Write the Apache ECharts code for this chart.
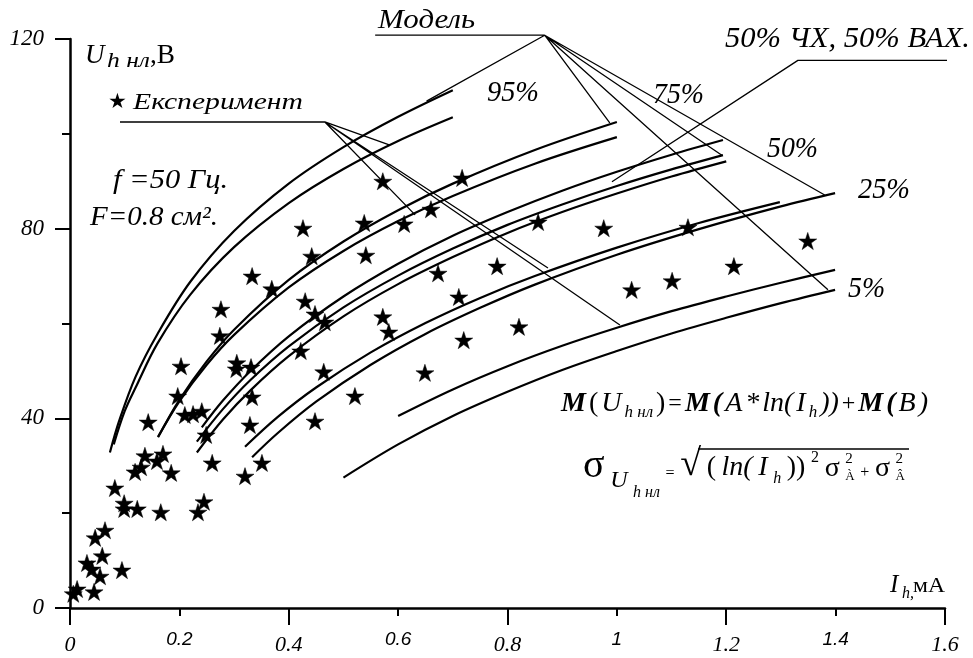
<!DOCTYPE html>
<html><head><meta charset="utf-8">
<script src="https://cdn.jsdelivr.net/npm/echarts/dist/echarts.min.js"></script>
<style>html,body{margin:0;padding:0;background:#fff}#c{width:973px;height:658px}</style>
</head><body><div id="c"></div>
<script>
// ---------- data ----------
const xTickLabels = ['0','0.2','0.4','0.6','0.8','1','1.2','1.4','1.6'];
const xTickRaised = ['0.2','0.6','1','1.4'];
const yTickLabels = ['0','40','80','120'];

const experiment = [
 [0.013,4.0],[0.006,3.0],[0.044,3.4],[0.055,6.7],[0.040,8.2],[0.031,9.5],[0.059,11.0],[0.046,14.8],[0.064,16.4],
 [0.095,8.0],[0.082,25.3],[0.099,22.1],[0.099,20.9],[0.123,20.9],[0.166,20.2],[0.119,28.7],[0.130,29.7],[0.137,32.1],
 [0.159,31.0],[0.170,32.5],[0.185,28.5],[0.234,20.2],[0.245,22.4],[0.260,30.6],[0.320,27.8],[0.351,30.6],
 [0.426,80.1],[0.442,74.2],[0.333,70.0],[0.369,67.3],[0.276,63.0],[0.274,57.4],[0.430,64.7],[0.448,62.0],[0.466,60.3],
 [0.203,51.0],[0.197,44.7],[0.305,51.7],[0.304,50.4],[0.331,50.8],[0.210,40.7],[0.225,40.9],[0.241,41.5],[0.143,39.2],
 [0.333,44.5],[0.329,38.6],[0.249,36.5],[0.422,54.2],[0.464,49.8],[0.448,39.4],
 [0.572,90.0],[0.717,90.7],[0.538,81.2],[0.611,81.0],[0.660,84.1],[0.541,74.4],[0.673,70.6],[0.781,72.1],[0.711,65.6],
 [0.856,81.4],[0.572,61.4],[0.583,58.2],[0.649,49.6],[0.720,56.5],[0.821,59.3],[0.521,44.7],
 [0.976,80.1],[1.130,80.3],[1.349,77.4],[1.214,72.1],[1.101,69.0],[1.027,67.1]
];

const model95a = [[0.073,32.8],[0.09,39.5],[0.12,48.8],[0.16,57.8],[0.22,68.8],[0.3,79.5],[0.4,89.5],[0.5,97.2],[0.6,103.6],[0.7,109.2]];
const model95b = [[0.08,34.5],[0.1,41.5],[0.12,46.5],[0.16,55.8],[0.22,66.1],[0.3,76.1],[0.4,85.4],[0.5,92.6],[0.6,98.5],[0.7,103.5]];
const model75a = [[0.161,36.0],[0.2,43.9],[0.25,52.0],[0.3,58.7],[0.4,69.2],[0.5,77.3],[0.6,83.9],[0.7,89.5],[0.85,96.6],[1.0,102.5]];
const model75b = [[0.161,36.1],[0.2,43.6],[0.25,51.3],[0.3,57.6],[0.4,67.6],[0.5,75.3],[0.6,81.6],[0.7,86.9],[0.85,93.7],[1.0,99.3]];
const model50a = [[0.241,38.1],[0.28,43.8],[0.33,50.0],[0.4,57.3],[0.5,65.7],[0.6,72.6],[0.7,78.5],[0.8,83.5],[0.9,88.0],[1.0,92.0],[1.1,95.6],[1.194,98.7]];
const model50b = [[0.232,35.1],[0.28,42.0],[0.33,48.1],[0.4,55.2],[0.5,63.4],[0.6,70.1],[0.7,75.8],[0.8,80.8],[0.9,85.1],[1.0,89.0],[1.1,92.5],[1.194,95.5]];
const model50c = [[0.232,32.8],[0.28,39.8],[0.33,45.9],[0.4,53.1],[0.5,61.5],[0.6,68.3],[0.7,74.0],[0.8,79.1],[0.9,83.5],[1.0,87.4],[1.1,91.0],[1.2,94.2]];
const model25a = [[0.32,34.0],[0.38,40.3],[0.45,46.5],[0.55,53.9],[0.65,60.1],[0.75,65.4],[0.85,70.0],[1.0,76.0],[1.15,81.2],[1.298,85.6]];
const model25b = [[0.333,31.8],[0.38,36.9],[0.45,43.5],[0.55,51.3],[0.65,57.8],[0.75,63.3],[0.85,68.2],[1.0,74.5],[1.15,79.9],[1.3,84.7],[1.399,87.5]];
const model5a  = [[0.6,40.5],[0.7,46.1],[0.8,51.0],[0.9,55.3],[1.0,59.1],[1.1,62.6],[1.2,65.7],[1.3,68.6],[1.399,71.3]];
const model5b  = [[0.5,27.5],[0.6,34.5],[0.7,40.5],[0.8,45.6],[0.9,50.2],[1.0,54.2],[1.1,57.9],[1.2,61.2],[1.3,64.3],[1.399,67.1]];

// leader lines of the annotations (data coordinates)
const leaderModel = [[0.558,120.8],[0.868,120.8],[0.652,106.9],[0.868,120.8],[0.987,102.3],[0.868,120.8],[1.192,95.5],[0.868,120.8],[1.380,87.1],[0.868,120.8],[1.386,67.1]];
const leaderExp   = [[0.0914,102.5],[0.466,102.5],[0.585,97.6],[0.466,102.5],[0.631,82.9],[0.466,102.5],[0.874,71.7],[0.466,102.5],[1.0055,59.7]];
const leaderMix   = [[1.609,115.5],[1.331,115.5],[0.991,89.9]];

// ---------- helpers ----------
const SERIF = '"Liberation Serif","Times New Roman",serif';
const SANS = '"Liberation Sans",Arial,sans-serif';
const STAR = 'path://M50 0 L61.23 34.55 L97.55 34.55 L68.16 55.9 L79.39 90.45 L50 69.1 L20.61 90.45 L31.84 55.9 L2.45 34.55 L38.77 34.55 Z';
const ctx = document.createElement('canvas').getContext('2d');
function fontStr(sz, st, w, ff){ return (st||'normal')+' '+(w||'normal')+' '+sz+'px '+(ff||SERIF); }
function measure(t, sz, st, w, ff){ ctx.font = fontStr(sz,st,w,ff); return ctx.measureText(t).width; }

function curve(d){
  return {type:'line', data:d, smooth:0.35, showSymbol:false, symbol:'none', silent:true,
    lineStyle:{color:'#000', width:2.2}, z:3, animation:false};
}
function leader(d){
  return {type:'line', data:d, showSymbol:false, symbol:'none', silent:true, clip:false,
    lineStyle:{color:'#000', width:1.3}, z:2, animation:false};
}
// text at left x / middle y; optional target width -> horizontal stretch
function T(x, y, text, sz, st, width, ff, w){
  const nat = measure(text, sz, st||'italic', w, ff);
  const sx = width ? width/nat : 1;
  return {type:'text', x:x, y:y, scaleX:sx, silent:true, z:10,
    style:{text:text, fill:'#000', fontFamily:ff||SERIF, fontSize:sz, fontStyle:st||'italic', fontWeight:w||'normal',
      align:'left', verticalAlign:'middle'}};
}
// lay out formula tokens from x0 to x1 (gaps spread evenly)
function formula(x0, x1, yC, toks){
  const widths = toks.map(k => k.stack ? Math.max.apply(null, k.stack.map(s => measure(s.t, s.sz, s.st, s.w))) : measure(k.t, k.sz, k.st, k.w));
  const nat = widths.reduce((a,b)=>a+b,0);
  const gap = (x1 - x0 - nat) / (toks.length - 1);
  const els = []; const marks = {};
  let cx = x0;
  toks.forEach((k,i) => {
    const parts = k.stack || [k];
    parts.forEach(p => {
      els.push({type:'text', x:cx, y:yC+(p.dy||0), silent:true, z:10,
        style:{text:p.t, fill:'#000', fontFamily:SERIF, fontSize:p.sz, fontStyle:p.st||'normal', fontWeight:p.w||'normal',
          align:'left', verticalAlign:'middle'}});
    });
    if (k.mark) marks[k.mark] = cx + widths[i];
    cx += widths[i] + gap;
  });
  marks.end = x1;
  return {els, marks};
}

const I='italic', B='bold';
const f1 = formula(561, 928, 404, [
  {t:'M', sz:28, st:I, w:B}, {t:'(', sz:28}, {t:'U', sz:28, st:I}, {t:'h нл', sz:17, st:I, dy:9}, {t:')', sz:28}, {t:'=', sz:24},
  {t:'M', sz:28, st:I, w:B}, {t:'(', sz:28, st:I, w:B}, {t:'A', sz:28, st:I}, {t:'*', sz:28, st:I}, {t:'ln(', sz:28, st:I},
  {t:'I', sz:28, st:I}, {t:'h', sz:17, st:I, dy:9}, {t:'))', sz:28, st:I}, {t:'+', sz:24},
  {t:'M', sz:28, st:I, w:B}, {t:'(', sz:28, st:I, w:B}, {t:'B', sz:28, st:I}, {t:')', sz:28, st:I}
]);
const f2 = formula(583, 905, 466, [
  {t:'σ', sz:40}, {t:'U', sz:24, st:I, dy:15}, {t:'h нл', sz:16, st:I, dy:27}, {t:'=', sz:16, dy:8},
  {t:'√', sz:38, dy:-1, mark:'root'}, {t:'(', sz:28, dy:2}, {t:'ln(', sz:28, st:I, dy:2}, {t:'I', sz:28, st:I, dy:2},
  {t:'h', sz:16, st:I, dy:13}, {t:'))', sz:28, dy:2}, {t:'2', sz:16, dy:-8}, {t:'σ', sz:28, dy:3},
  {stack:[{t:'2', sz:15, dy:-7},{t:'À', sz:13, dy:11}]}, {t:'+', sz:16, dy:7}, {t:'σ', sz:28, dy:3},
  {stack:[{t:'2', sz:15, dy:-7},{t:'Â', sz:13, dy:11}]}
]);

const chart = echarts.init(document.getElementById('c'), null, {renderer:'canvas'});

const option = {
  backgroundColor:'#fff',
  animation:false,
  grid:{left:70, right:28, top:39, bottom:50, containLabel:false},
  xAxis:[{
    type:'value', min:0, max:1.6, interval:0.2,
    splitLine:{show:false},
    axisLine:{show:true, onZero:false, lineStyle:{color:'#000', width:2.5}},
    axisTick:{show:true, length:8, lineStyle:{color:'#000', width:2}},
    axisLabel:{show:true, margin:22, color:'#000',
      formatter:function(v){
        const s = xTickLabels[Math.round(v/0.2)];
        return xTickRaised.indexOf(s) >= 0 ? '{b|'+s+'}' : '{a|'+s+'}';
      },
      rich:{
        a:{fontFamily:SERIF, fontStyle:'italic', fontSize:22, lineHeight:22, padding:[9,0,0,0]},
        b:{fontFamily:SANS, fontStyle:'italic', fontSize:19, lineHeight:19}
      }}
  },{
    type:'value', min:0, max:1.6, interval:0.4, position:'bottom',
    splitLine:{show:false},
    axisLine:{show:false, onZero:false},
    axisTick:{show:true, length:17, lineStyle:{color:'#000', width:2}},
    axisLabel:{show:false}
  }],
  yAxis:{
    type:'value', min:0, max:120, interval:40,
    splitLine:{show:false},
    axisLine:{show:true, onZero:false, lineStyle:{color:'#000', width:2.5}},
    axisTick:{show:true, length:15, lineStyle:{color:'#000', width:2}},
    minorTick:{show:true, splitNumber:2, length:8, lineStyle:{color:'#000', width:2}},
    minorSplitLine:{show:false},
    axisLabel:{margin:26, color:'#000',
      formatter:function(v){ return '{a|'+yTickLabels[Math.round(v/40)]+'}'; },
      rich:{a:{fontFamily:SERIF, fontStyle:'italic', fontSize:23, lineHeight:23}}}
  },
  series:[
    curve(model95a), curve(model95b), curve(model75a), curve(model75b),
    curve(model50a), curve(model50b), curve(model50c),
    curve(model25a), curve(model25b), curve(model5a), curve(model5b),
    leader(leaderModel), leader(leaderExp), leader(leaderMix),
    {type:'scatter', data:experiment, symbol:STAR, symbolSize:18, symbolKeepAspect:true,
      itemStyle:{color:'#000', opacity:1, borderColor:'#000', borderWidth:0.5}, z:5, silent:true, animation:false}
  ],
  graphic:[
    T(378,21,'Модель',27,'italic',97),
    {type:'text', x:108, y:103, silent:true, z:10, style:{text:'★', fill:'#000', fontFamily:'"DejaVu Sans"', fontSize:21, align:'left', verticalAlign:'middle'}},
    T(133,103,'Експеримент',24,'italic',170),
    T(113,181,'f =50 Гц.',27,'italic',115),
    T(90,218,'F=0.8 см².',27,'italic',128),
    T(85,56,'U',27,'italic'),
    T(107,62,'h нл',20,'italic',43),
    T(150,56,',B',27,'normal',25),
    T(487,93,'95%',29,'italic',52),
    T(653,95,'75%',29,'italic',51),
    T(767,149,'50%',29,'italic',51),
    T(858,190,'25%',29,'italic',52),
    T(848,289,'5%',29,'italic',37),
    T(725,39,'50% ЧХ, 50% ВАХ.',29,'italic',245),
    T(890,585,'I',25,'italic'),
    T(902,594,'h,',16,'italic'),
    T(913,586,'мА',22,'normal',32)
  ].concat(f1.els, f2.els, [
    {type:'line', silent:true, z:10, shape:{x1:f2.marks.root-3, y1:449, x2:f2.marks.end+4, y2:449}, style:{stroke:'#000', lineWidth:1.6}}
  ])
};
chart.setOption(option);
</script>
</body></html>
